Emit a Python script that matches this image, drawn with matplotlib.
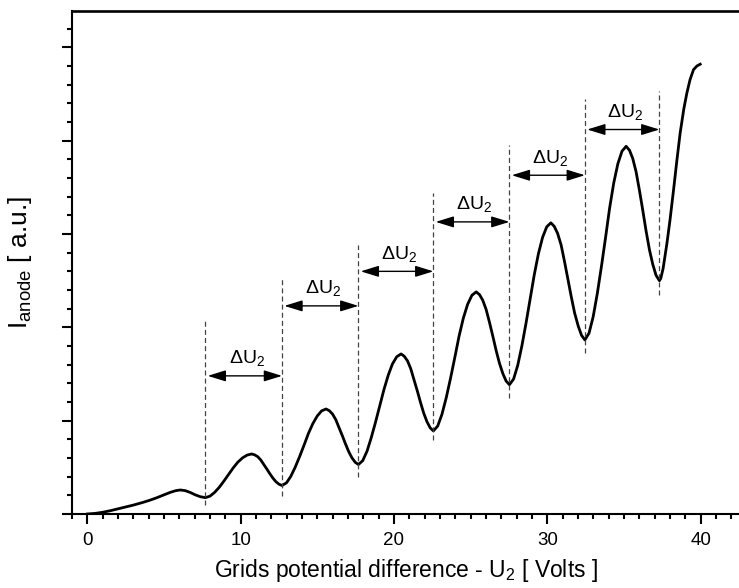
import matplotlib
matplotlib.use("Agg")
import matplotlib.pyplot as plt
from matplotlib.ticker import MultipleLocator

# anode current (a.u.)
volts = [
    0.0, 0.5, 1.0, 1.5, 2.0, 2.5, 3.0, 3.5, 4.0, 4.5, 5.0, 5.4, 5.75, 6.06,
    6.39, 6.72, 7.04, 7.37, 7.70,
    8.00, 8.30, 8.61, 8.91, 9.21, 9.51, 9.81, 10.12, 10.42, 10.72,
    10.92, 11.12, 11.31, 11.51, 11.71, 11.91, 12.11, 12.30, 12.50, 12.70,
    12.99, 13.27, 13.56, 13.85, 14.14, 14.42, 14.71, 15.00, 15.28, 15.57,
    15.78, 15.99, 16.20, 16.41, 16.63, 16.84, 17.05, 17.26, 17.47, 17.68,
    17.96, 18.24, 18.51, 18.79, 19.07, 19.35, 19.63, 19.90, 20.18, 20.46,
    20.67, 20.88, 21.09, 21.30, 21.52, 21.73, 21.94, 22.15, 22.36, 22.57,
    22.85, 23.13, 23.41, 23.69, 23.97, 24.24, 24.52, 24.80, 25.08, 25.36,
    25.58, 25.79, 26.01, 26.23, 26.45, 26.66, 26.88, 27.10, 27.31, 27.53,
    27.80, 28.07, 28.34, 28.61, 28.88, 29.15, 29.42, 29.69, 29.96, 30.23,
    30.45, 30.67, 30.90, 31.12, 31.34, 31.56, 31.78, 32.01, 32.23, 32.45,
    32.72, 32.99, 33.26, 33.53, 33.80, 34.06, 34.33, 34.60, 34.87, 35.14,
    35.36, 35.57, 35.79, 36.01, 36.23, 36.44, 36.66, 36.88, 37.09, 37.31,
    37.40, 37.55, 37.80, 38.00, 38.23, 38.45, 38.66, 38.90, 39.10, 39.30,
    39.53, 39.75, 39.97,
]
current = [
    0.000, 0.006, 0.018, 0.035, 0.055, 0.075, 0.095, 0.118, 0.143, 0.172, 0.205, 0.231, 0.249, 0.257,
    0.250, 0.230, 0.205, 0.185, 0.175,
    0.191, 0.231, 0.287, 0.353, 0.423, 0.493, 0.554, 0.601, 0.631, 0.643,
    0.633, 0.613, 0.579, 0.531, 0.481, 0.430, 0.383, 0.346, 0.319, 0.305,
    0.334, 0.403, 0.502, 0.617, 0.740, 0.863, 0.969, 1.051, 1.105, 1.125,
    1.107, 1.071, 1.012, 0.929, 0.839, 0.750, 0.667, 0.601, 0.554, 0.530,
    0.571, 0.672, 0.814, 0.980, 1.158, 1.336, 1.490, 1.608, 1.685, 1.715,
    1.690, 1.641, 1.558, 1.443, 1.319, 1.195, 1.080, 0.989, 0.923, 0.890,
    0.942, 1.069, 1.248, 1.456, 1.680, 1.903, 2.097, 2.246, 2.343, 2.380,
    2.350, 2.290, 2.191, 2.052, 1.902, 1.753, 1.614, 1.504, 1.425, 1.385,
    1.446, 1.593, 1.801, 2.044, 2.305, 2.565, 2.790, 2.964, 3.077, 3.120,
    3.082, 3.007, 2.882, 2.706, 2.518, 2.329, 2.154, 2.016, 1.915, 1.865,
    1.938, 2.114, 2.363, 2.654, 2.965, 3.276, 3.546, 3.753, 3.888, 3.940,
    3.897, 3.810, 3.666, 3.465, 3.249, 3.033, 2.831, 2.673, 2.558, 2.500,
    2.525, 2.630, 2.900, 3.150, 3.470, 3.790, 4.080, 4.340, 4.510, 4.650,
    4.760, 4.800, 4.820,
]

# minima positions and the dashed marker extents
dip_volts = [7.70, 12.70, 17.68, 22.57, 27.53, 32.45, 37.31]
dip_top = [2.08, 2.53, 2.88, 3.44, 3.95, 4.45, 4.53]
dip_bottom = [0.10, 0.19, 0.40, 0.79, 1.24, 1.72, 2.35]
arrow_levels = [1.48, 2.23, 2.60, 3.13, 3.63, 4.12]
delta_label = r"$\mathrm{\Delta U_2}$"


def main() -> None:
    plt.rcParams["font.family"] = ["Liberation Sans", "DejaVu Sans"]
    plt.rcParams["mathtext.fontset"] = "custom"
    plt.rcParams["mathtext.rm"] = "Liberation Sans"
    plt.rcParams["mathtext.it"] = "Liberation Sans:italic"
    plt.rcParams["mathtext.bf"] = "Liberation Sans:bold"

    fig = plt.figure(figsize=(7.39, 5.88), dpi=100)
    ax = fig.add_axes([0.0974, 0.1259, 0.9026, 0.8554])

    ax.plot(volts, current, color="black", lw=2.0, solid_joinstyle="round")

    for x, y0, y1 in zip(dip_volts, dip_bottom, dip_top):
        ax.plot([x, x], [y0, y1], color="#444444", lw=0.9, ls=(0, (4, 2.5)))

    for i, y in enumerate(arrow_levels):
        x0, x1 = dip_volts[i], dip_volts[i + 1]
        ax.annotate("", xy=(x1, y), xytext=(x0 + 0.15, y),
                    arrowprops=dict(arrowstyle="<|-|>,head_length=0.55,head_width=0.17",
                                    color="black", lw=1.0, mutation_scale=20,
                                    shrinkA=0, shrinkB=0))
        ax.text((x0 + x1) / 2 + 0.2, y + 0.135, delta_label, ha="center",
                va="baseline", fontsize=14)

    ax.set_xlim(-1, 42.5)
    ax.set_ylim(0, 5.39)

    ax.xaxis.set_major_locator(MultipleLocator(10))
    ax.xaxis.set_minor_locator(MultipleLocator(1))
    ax.yaxis.set_major_locator(MultipleLocator(1))
    ax.yaxis.set_minor_locator(MultipleLocator(0.2))
    ax.set_yticklabels([])

    ax.tick_params(which="major", direction="out", length=7, width=1.5,
                   labelsize=13.5, pad=6)
    ax.tick_params(which="minor", direction="out", length=3.6, width=1.5)
    ax.tick_params(top=False, right=False, which="both")

    ax.spines["right"].set_visible(False)
    for side in ("left", "bottom"):
        ax.spines[side].set_linewidth(1.5)
    ax.spines["top"].set_linewidth(1.9)

    ax.set_xlabel(r"Grids potential difference - U$_\mathrm{2}$ [ Volts ]",
                  fontsize=16.5, labelpad=6)
    ax.set_ylabel(r"I$_\mathrm{anode}$ [ a.u.]", fontsize=19, labelpad=14)

    fig.savefig("out.png", dpi=100)
    print("Saved: out.png")


if __name__ == "__main__":
    main()
